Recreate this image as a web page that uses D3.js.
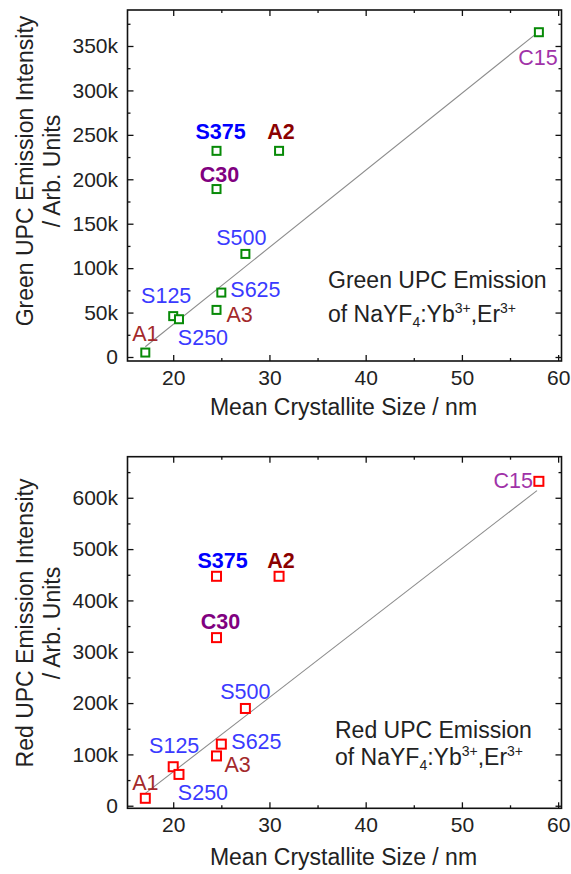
<!DOCTYPE html>
<html>
<head>
<meta charset="utf-8">
<script src="https://cdn.jsdelivr.net/npm/d3@7"></script>
<style>
  body { margin: 0; background: #fff; }
  text { font-family: "Liberation Sans", Arial, sans-serif; }
</style>
</head>
<body>
<svg id="chart" width="571" height="874"></svg>
<script>
// sample data
const samples = ["A1", "S125", "S250", "A3", "S625", "S500", "C30", "S375", "A2", "C15"];
const crystalliteSize = [17.1, 20.0, 20.6, 24.5, 25.0, 27.5, 24.5, 24.5, 31.0, 58.0];
const greenIntensity = [5000, 46000, 42500, 53000, 72500, 116000, 189000, 232000, 232000, 365500];
const redIntensity = [14500, 76000, 61000, 97000, 120000, 189500, 327500, 447000, 447000, 632000];

// linear fit end points
const fitSize = [17.1, 57.8];
const greenFit = [11500, 364500];
const redFit = [24000, 614000];

const xTicks = [20, 30, 40, 50, 60];
const xMinor = [25, 35, 45, 55];
const greenTicks = [0, 50000, 100000, 150000, 200000, 250000, 300000, 350000];
const greenMinor = [25000, 75000, 125000, 175000, 225000, 275000, 325000, 375000];
const redTicks = [0, 100000, 200000, 300000, 400000, 500000, 600000];
const redMinor = [50000, 150000, 250000, 350000, 450000, 550000, 650000];

const highlighted = ["S375", "A2", "C30"];

function labelColor(name) {
    const bold = highlighted.includes(name);
    if (name[0] === "S") return bold ? "#0000ff" : "#3a3aff";
    if (name[0] === "A") return bold ? "#8b0000" : "#a3292b";
    return bold ? "#800080" : "#a032a8";
}

// label offsets in px relative to the marker: [dx, dy, anchor]
const greenLabelPos = {
    A1: [0, -12, "middle"], S125: [-7, -13, "middle"], S250: [24, 26, "middle"],
    A3: [10, 12, "start"], S625: [9, 4, "start"], S500: [-4, -9, "middle"],
    C30: [3, -7, "middle"], S375: [4, -12, "middle"], A2: [2, -12, "middle"],
    C15: [-1, 33, "middle"]
};
const redLabelPos = {
    A1: [0, -8, "middle"], S125: [1, -14, "middle"], S250: [24, 26, "middle"],
    A3: [8, 16, "start"], S625: [10, 5, "start"], S500: [0, -9, "middle"],
    C30: [4, -9, "middle"], S375: [6, -8, "middle"], A2: [2, -8, "middle"],
    C15: [-6, 7, "end"]
};

const svg = d3.select("#chart");
const left = 127.5, right = 561.5;

const x = d3.scaleLinear().domain([15.25, 60.35]).range([left, right]);

function kFormat(d) {
    return d === 0 ? "0" : (d / 1000) + "k";
}

function drawPanel(opts) {
    const y = d3.scaleLinear().domain(opts.yDomain).range([opts.bottom, opts.top]);
    const g = svg.append("g");

    // minor ticks
    g.append("g").attr("transform", `translate(0,${opts.bottom})`)
        .call(d3.axisBottom(x).tickValues(xMinor).tickSize(-3).tickFormat(""));
    g.append("g").attr("transform", `translate(0,${opts.top})`)
        .call(d3.axisTop(x).tickValues(xMinor).tickSize(-3).tickFormat(""));
    g.append("g").attr("transform", `translate(${left},0)`)
        .call(d3.axisLeft(y).tickValues(opts.minor).tickSize(-3).tickFormat(""));
    g.append("g").attr("transform", `translate(${right},0)`)
        .call(d3.axisRight(y).tickValues(opts.minor).tickSize(-3).tickFormat(""));

    // major ticks
    g.append("g").attr("transform", `translate(0,${opts.bottom})`)
        .call(d3.axisBottom(x).tickValues(xTicks).tickSize(-6).tickPadding(9).tickFormat(d3.format("d")));
    g.append("g").attr("transform", `translate(0,${opts.top})`)
        .call(d3.axisTop(x).tickValues(xTicks).tickSize(-6).tickFormat(""));
    g.append("g").attr("transform", `translate(${left},0)`)
        .call(d3.axisLeft(y).tickValues(opts.ticks).tickSize(-6).tickPadding(9.5).tickFormat(kFormat));
    g.append("g").attr("transform", `translate(${right},0)`)
        .call(d3.axisRight(y).tickValues(opts.ticks).tickSize(-6).tickFormat(""));

    g.selectAll(".domain").remove();
    g.selectAll(".tick line").attr("stroke", "#111").attr("stroke-width", 1.3);
    g.selectAll(".tick text")
        .attr("fill", "#222")
        .style("font-size", "21px")
        .style("font-family", "'Liberation Sans', Arial, sans-serif");

    // frame
    g.append("rect")
        .attr("x", left)
        .attr("y", opts.top)
        .attr("width", right - left)
        .attr("height", opts.bottom - opts.top)
        .attr("fill", "none")
        .attr("stroke", "#111")
        .attr("stroke-width", 1.6);

    // fit line
    g.append("path")
        .datum(fitSize.map((s, i) => [s, opts.fit[i]]))
        .attr("d", d3.line().x(d => x(d[0])).y(d => y(d[1])))
        .attr("fill", "none")
        .attr("stroke", "#8c8c8c")
        .attr("stroke-width", 1.1);

    // markers
    g.selectAll("rect.pt")
        .data(samples)
        .join("rect")
        .attr("class", "pt")
        .attr("x", (d, i) => x(crystalliteSize[i]) - opts.markerSize / 2)
        .attr("y", (d, i) => y(opts.values[i]) - opts.markerSize / 2)
        .attr("width", opts.markerSize)
        .attr("height", opts.markerSize)
        .attr("fill", "#fff")
        .attr("stroke", opts.color)
        .attr("stroke-width", 2);

    // sample labels
    g.selectAll("text.lbl")
        .data(samples)
        .join("text")
        .attr("class", "lbl")
        .attr("x", (d, i) => x(crystalliteSize[i]) + opts.labelPos[d][0])
        .attr("y", (d, i) => y(opts.values[i]) + opts.labelPos[d][1])
        .attr("text-anchor", d => opts.labelPos[d][2])
        .attr("fill", d => labelColor(d))
        .style("font-weight", d => highlighted.includes(d) ? "bold" : "normal")
        .style("font-size", "21.5px")
        .text(d => d);

    // axis titles
    g.append("text")
        .attr("x", 343.5)
        .attr("y", opts.xTitleY)
        .attr("text-anchor", "middle")
        .attr("fill", "#222")
        .style("font-size", "23px")
        .text("Mean Crystallite Size / nm");

    const yt = g.append("text")
        .attr("transform", `translate(33,${opts.yTitleCenter}) rotate(-90)`)
        .attr("text-anchor", "middle")
        .attr("fill", "#222")
        .style("font-size", "23px");
    yt.append("tspan").attr("x", 0).attr("y", 0).text(opts.yTitle);
    yt.append("tspan").attr("x", 0).attr("y", 27).text("/ Arb. Units");

    // annotation
    g.append("text")
        .attr("x", opts.annX)
        .attr("y", opts.annY)
        .attr("fill", "#222")
        .style("font-size", "23px")
        .text(opts.annTitle);
    const l2 = g.append("text")
        .attr("x", opts.annX)
        .attr("y", opts.annY + opts.annGap)
        .attr("fill", "#222")
        .style("font-size", "23px");
    l2.append("tspan").text("of NaYF");
    l2.append("tspan").attr("dy", 5).style("font-size", "14px").text("4");
    l2.append("tspan").attr("dy", -5).text(":Yb");
    l2.append("tspan").attr("dy", -9).style("font-size", "14px").text("3+");
    l2.append("tspan").attr("dy", 9).text(",Er");
    l2.append("tspan").attr("dy", -9).style("font-size", "14px").text("3+");
}

drawPanel({
    top: 10, bottom: 361,
    yDomain: [-4500, 390500],
    ticks: greenTicks, minor: greenMinor,
    values: greenIntensity, fit: greenFit,
    color: "#078a07", markerSize: 8,
    labelPos: greenLabelPos,
    xTitleY: 415, yTitleCenter: 171,
    yTitle: "Green UPC Emission Intensity",
    annTitle: "Green UPC Emission", annX: 328, annY: 288, annGap: 34
});

drawPanel({
    top: 456.7, bottom: 808.3,
    yDomain: [-5000, 680000],
    ticks: redTicks, minor: redMinor,
    values: redIntensity, fit: redFit,
    color: "#ff0000", markerSize: 9,
    labelPos: redLabelPos,
    xTitleY: 865, yTitleCenter: 623,
    yTitle: "Red UPC Emission Intensity",
    annTitle: "Red UPC Emission", annX: 335, annY: 738, annGap: 27
});
</script>
</body>
</html>
